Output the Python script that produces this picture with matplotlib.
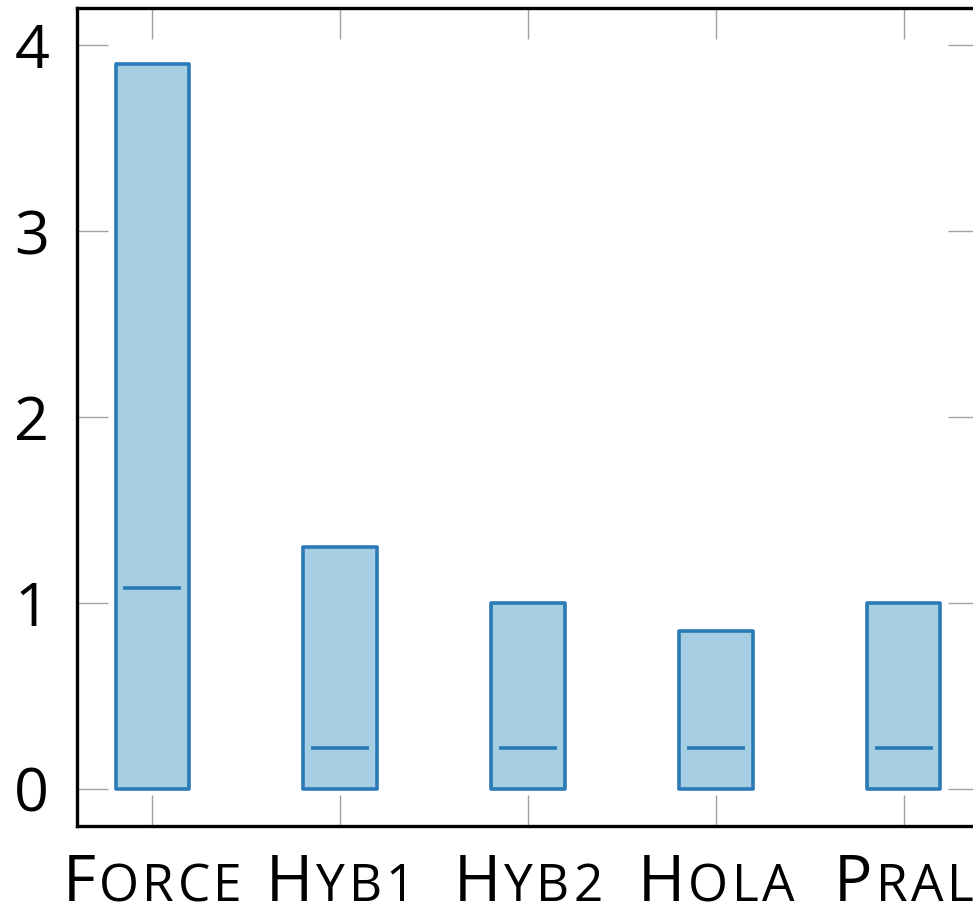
import matplotlib
matplotlib.use("Agg")
import matplotlib.pyplot as plt
from matplotlib.offsetbox import TextArea, HPacker, AnnotationBbox

# data
methods = ["Force", "Hyb1", "Hyb2", "Hola", "Pral"]
upper = [3.90, 1.30, 1.00, 0.85, 1.00]
lower = [0.0, 0.0, 0.0, 0.0, 0.0]
medians = [1.08, 0.22, 0.22, 0.22, 0.22]
yticks = [0, 1, 2, 3, 4]

edge = "#2a7ab8"
fill = "#a6cee3"
font = "Open Sans"

fig = plt.figure(figsize=(9.73, 9.05), dpi=100)
ax = fig.add_axes([77 / 973, 79 / 905, 902 / 973, 818 / 905])

positions = list(range(1, len(methods) + 1))
stats = []
for name, lo, hi, med in zip(methods, lower, upper, medians):
    stats.append({"label": name, "q1": lo, "q3": hi, "med": med,
                  "whislo": lo, "whishi": hi, "fliers": []})

ax.bxp(stats, positions=positions, widths=0.39, patch_artist=True,
       showcaps=False, showfliers=False,
       boxprops=dict(facecolor=fill, edgecolor=edge, linewidth=2.6, joinstyle="round"),
       whiskerprops=dict(linewidth=0),
       medianprops=dict(linewidth=0))
ax.hlines(medians, [p - 0.155 for p in positions], [p + 0.155 for p in positions],
          colors=edge, linewidth=2.6)

ax.set_xlim(0.6, 5.4)
ax.set_ylim(-0.2, 4.2)
ax.set_yticks(yticks)
ax.set_yticklabels([str(t) for t in yticks], fontfamily=font, fontsize=44)
ax.set_xticks(positions)
ax.set_xticklabels([])

ax.tick_params(axis="both", direction="in", length=22, width=1.0, color="#a0a0a0",
               top=True, right=True)
ax.tick_params(axis="y", pad=20)
for sp in ax.spines.values():
    sp.set_linewidth(2.4)
    sp.set_color("black")

# small caps labels under the axis, letter by letter for a bit of tracking
for p, name in zip(positions, methods):
    parts = [TextArea(name[0], textprops=dict(fontfamily=font, fontsize=46, color="black"))]
    for ch in name[1:].upper():
        parts.append(TextArea(ch, textprops=dict(fontfamily=font, fontsize=37, color="black")))
    box = HPacker(children=parts, align="baseline", pad=0, sep=2.5)
    ab = AnnotationBbox(box, (p, 0), xycoords=ax.get_xaxis_transform(),
                        xybox=(0, -19), boxcoords="offset points",
                        box_alignment=(0.5, 1.0), frameon=False, annotation_clip=False)
    ax.add_artist(ab)

fig.savefig("out.png", dpi=100)
